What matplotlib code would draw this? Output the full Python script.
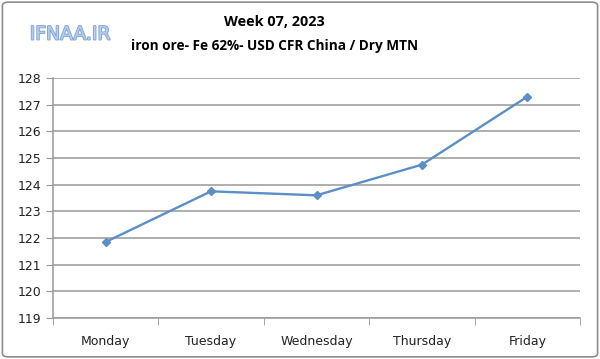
import matplotlib
matplotlib.use('Agg')
import matplotlib.pyplot as plt
import matplotlib.patheffects as pe
from matplotlib.patches import FancyBboxPatch

days   = ["Monday", "Tuesday", "Wednesday", "Thursday", "Friday"]
prices = [121.85, 123.75, 123.6, 124.75, 127.3]
yticks = list(range(119, 129))

LINE = '#5B8FC7'
GRID = '#999999'

fig = plt.figure(figsize=(6, 3.59), dpi=100)
fig.patches.append(FancyBboxPatch((0.004, 0.006), 0.992, 0.988, boxstyle="round,pad=0,rounding_size=0.01",
                                  transform=fig.transFigure, fill=False, ec='#8C8C8C', lw=1.2))

ax = fig.add_axes([0.088, 0.114, 0.879, 0.669])
x = range(len(days))
ax.plot(x, prices, color=LINE, lw=1.7, marker='D', ms=4.5, mfc=LINE, mec=LINE)

ax.set_ylim(119, 128)
ax.set_yticks(yticks)
ax.set_xlim(-0.5, len(days) - 0.5)
ax.set_xticks(x)
ax.set_xticklabels(days)
ax.set_xticks([i - 0.5 for i in range(len(days) + 1)], minor=True)
ax.tick_params(axis='x', which='major', length=0, pad=12, labelsize=9, colors='#222222')
ax.tick_params(axis='x', which='minor', length=5, color=GRID)
ax.tick_params(axis='y', length=5, color=GRID, labelsize=9, colors='#222222', pad=3)
ax.grid(axis='y', color=GRID, lw=1.1)
ax.set_axisbelow(True)
for s in ['top', 'right']:
    ax.spines[s].set_visible(False)
for s in ['left', 'bottom']:
    ax.spines[s].set_color(GRID)
    ax.spines[s].set_linewidth(1.1)

fig.text(0.458, 0.938, "Week 07, 2023", ha='center', va='center', fontsize=10.4, fontweight='bold', family='Open Sans')
fig.text(0.458, 0.873, "iron ore- Fe 62%- USD CFR China / Dry MTN", ha='center', va='center', fontsize=9.8,
         fontweight='bold', family='Open Sans')
fig.text(0.117, 0.905, "IFNAA.IR", ha='center', va='center', fontsize=13.5, color='#B5CDED', family='DejaVu Sans',
         path_effects=[pe.withStroke(linewidth=1.2, foreground='#7FA2D2')])

fig.savefig('out.png', dpi=100)
